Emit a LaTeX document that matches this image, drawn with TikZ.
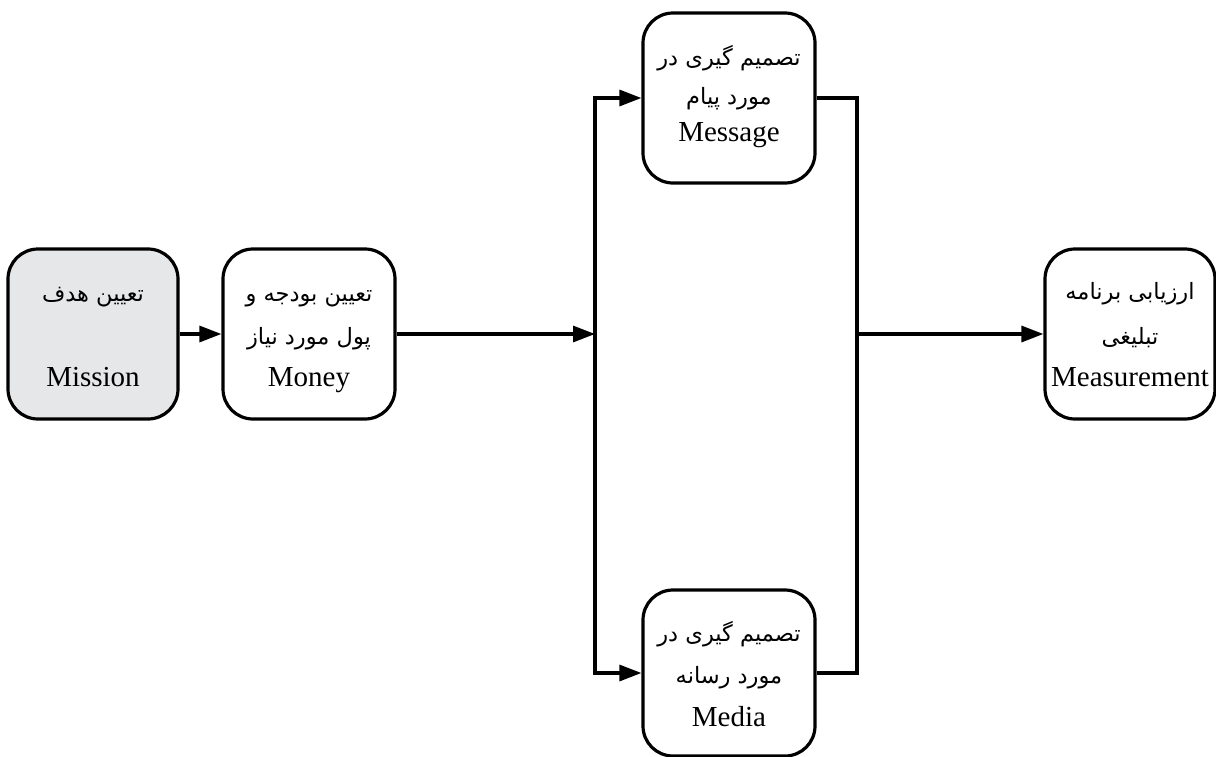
\documentclass[tikz,border=0pt]{standalone}
\usepackage{fontspec}
\setmainfont{Liberation Serif}
\newfontfamily\arabicfont[Script=Arabic]{DejaVu Sans}
\TeXXeTstate=1
\usetikzlibrary{arrows.meta}
\definecolor{boxgray}{HTML}{E6E7E9}
\begin{document}
\begin{tikzpicture}[x=1pt,y=-1pt,
  box/.style={draw,line width=3.2pt,rounded corners=30pt,minimum width=170pt,minimum height=170pt,inner sep=0pt},
  conn/.style={line width=3.2pt},
  arr/.style={conn,-{Triangle[length=22pt,width=16pt]}},
  lat/.style={font=\fontsize{29}{32}\selectfont,anchor=base,inner sep=0pt},
  far/.style={font=\arabicfont\fontsize{22.5}{26}\selectfont,anchor=base,inner sep=0pt}]
\useasboundingbox (0,0) rectangle (1216,756);
% boxes
\node[box,fill=boxgray] (mis) at (93,334) {};
\node[box,minimum width=172pt] (mon) at (309,334) {};
\node[box,minimum width=172pt] (msg) at (729,98) {};
\node[box,minimum width=172pt,minimum height=166pt] (med) at (729,673) {};
\node[box] (meas) at (1130,334) {};
% texts
\node[far] (mis1) at (93,301) {\beginR تعیین هدف\endR};
\node[lat] (mis2) at (93,386) {Mission};
\node[far] (mon1) at (309,301) {\beginR تعیین بودجه و\endR};
\node[far] (mon2) at (309,344) {\beginR پول مورد نیاز\endR};
\node[lat] (mon3) at (309,386) {Money};
\node[far] (msg1) at (729,65) {\beginR تصمیم گیری در\endR};
\node[far] (msg2) at (729,104) {\beginR مورد پیام\endR};
\node[lat] (msg3) at (729,141) {Message};
\node[far] (med1) at (729,641) {\beginR تصمیم گیری در\endR};
\node[far] (med2) at (729,683) {\beginR مورد رسانه\endR};
\node[lat] (med3) at (729,726) {Media};
\node[far] (meas1) at (1130,299) {\beginR ارزیابی برنامه\endR};
\node[far] (meas2) at (1130,344) {\beginR تبلیغی\endR};
\node[lat] (meas3) at (1130,386) {Measurement};
% junctions
\coordinate (j1) at (595,334);
\coordinate (j3) at (595,673);
\coordinate (kt) at (857,98);
\coordinate (kb) at (857,673);
\coordinate (k1) at (857,334);
% connectors
\draw[arr] (mis.east) -- (mon.west);
\draw[arr] (mon.east) -- (j1);
\draw[arr] (j3) |- (msg.west);
\draw[arr] (j1) |- (med.west);
\draw[conn] (msg.east) -- (kt) -- (kb) -- (med.east);
\draw[arr] (k1) -- (meas.west);
\end{tikzpicture}
\end{document}
